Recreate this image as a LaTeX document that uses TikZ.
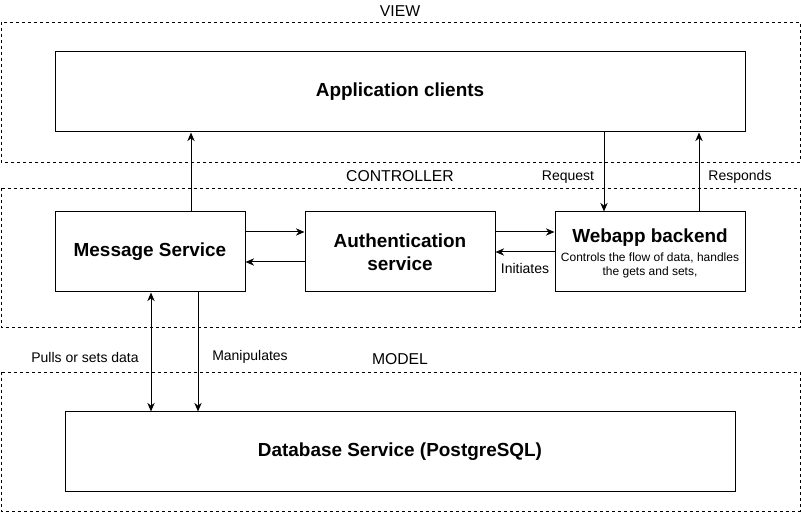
\documentclass[tikz,border=0pt]{standalone}
\usepackage{fontspec}
\setmainfont{Liberation Sans}
\usetikzlibrary{calc,arrows.meta,positioning}

\tikzset{
  layer/.style={draw, dash pattern=on 2.25pt off 2.25pt, line width=0.6pt},
  layername/.style={font=\fontsize{11.8}{14}\selectfont},
  service/.style={draw, line width=0.75pt, minimum height=60pt, align=center,
    font=\fontsize{14.2}{17}\selectfont\bfseries},
  flow/.style={line width=0.75pt, -{Stealth[length=6.5pt,width=5.5pt]}},
  flowboth/.style={line width=0.75pt, {Stealth[length=6.5pt,width=5.5pt]}-{Stealth[length=6.5pt,width=5.5pt]}},
  edgename/.style={font=\fontsize{10.5}{12}\selectfont}
}

\begin{document}
\begin{tikzpicture}[x=0.75pt, y=-0.75pt]
  \useasboundingbox (0,0) rectangle (801,513);

  % layers
  \draw[layer] (1,22) rectangle (800,162);
  \draw[layer] (1,188) rectangle (800,327);
  \draw[layer] (1,372) rectangle (800,511);
  \node[layername] (viewname) at (400,11) {VIEW};
  \node[layername] (ctrlname) at (400,176) {CONTROLLER};
  \node[layername] (modelname) at (400,359) {MODEL};

  % services
  \node[service, minimum width=517.5pt] (app) at (400,92) {Application clients};
  \node[service, minimum width=142.5pt] (msg) at (150,252) {Message Service};
  \node[service, minimum width=142.5pt] (auth) at (400,252) {Authentication\\service};
  \node[service, minimum width=142.5pt] (web) at (650,252) {};
  \node[font=\fontsize{14.2}{17}\selectfont\bfseries] (webname) at (650,238) {Webapp backend};
  \node[align=center, font=\fontsize{9}{10.5}\selectfont] (webtext) at (650,265)
    {Controls the flow of data, handles\\the gets and sets,};
  \node[service, minimum width=502.5pt] (db) at (400,452) {Database Service (PostgreSQL)};

  % message service <-> others
  \coordinate (ma) at ($(msg.north)+(41,0)$);
  \draw[flow] (ma) -- (ma |- app.south);
  \draw[flow] ($(msg.east)+(0,-20)$) coordinate (ma1) -- (ma1 -| auth.west);
  \draw[flow] ($(auth.west)+(0,10)$) coordinate (am1) -- (am1 -| msg.east);

  % authentication <-> webapp
  \draw[flow] ($(auth.east)+(0,-20)$) coordinate (aw1) -- (aw1 -| web.west);
  \draw[flow] ($(web.west)+(0,0)$) coordinate (wa1) -- (wa1 -| auth.east);
  \node[edgename] (initiates) at (525,268) {Initiates};

  % view <-> webapp
  \coordinate (rq) at ($(web.north)+(-46,0)$);
  \draw[flow] (rq |- app.south) -- (rq);
  \node[edgename] (request) at (568,177) {Request};
  \coordinate (rs) at ($(web.north)+(49,0)$);
  \draw[flow] (rs) -- (rs |- app.south);
  \node[edgename] (responds) at (740,177) {Responds};

  % message service <-> database
  \coordinate (pd) at ($(msg.south)+(1,0)$);
  \draw[flowboth] (pd) -- (pd |- db.north);
  \node[edgename] (pulls) at (85,357) {Pulls or sets data};
  \coordinate (md) at ($(msg.south)+(48,0)$);
  \draw[flow] (md) -- (md |- db.north);
  \node[edgename] (manip) at (250,357) {Manipulates};
\end{tikzpicture}
\end{document}
